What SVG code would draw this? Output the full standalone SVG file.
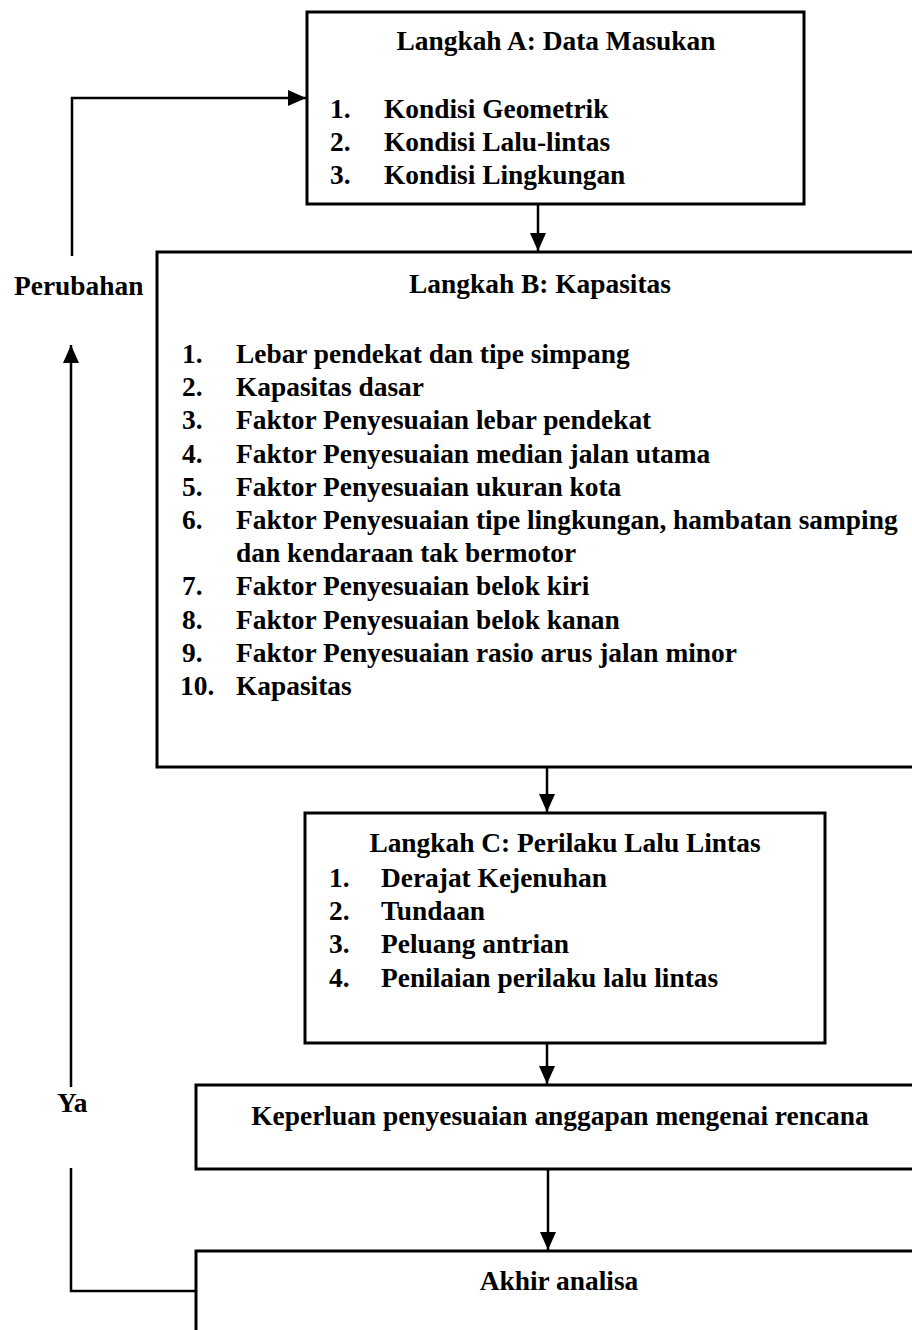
<svg xmlns="http://www.w3.org/2000/svg" width="912" height="1330" viewBox="0 0 912 1330">
<style>
.box{fill:none;stroke:#000;stroke-width:3}
.con{fill:none;stroke:#000;stroke-width:2.5}
text{font-family:"Liberation Serif","Times New Roman",serif;font-weight:bold;font-size:27.4px;fill:#000}
.c{text-anchor:middle}
</style>
<defs>
<marker id="ah" markerUnits="userSpaceOnUse" markerWidth="20" markerHeight="18" refX="18" refY="8" orient="auto">
<path d="M0,0 L18,8 L0,16 Z" fill="#000"/>
</marker>
</defs>
<rect width="912" height="1330" fill="#fff"/>
<g id="connectors">
<line class="con" x1="538" y1="204" x2="538" y2="251" marker-end="url(#ah)"/>
<line class="con" x1="547" y1="767" x2="547" y2="812" marker-end="url(#ah)"/>
<line class="con" x1="547" y1="1043" x2="547" y2="1084" marker-end="url(#ah)"/>
<line class="con" x1="548" y1="1169" x2="548" y2="1250" marker-end="url(#ah)"/>
<polyline class="con" points="196,1291 71,1291 71,1168"/>
<line class="con" x1="71" y1="1087" x2="71" y2="345" marker-end="url(#ah)"/>
<polyline class="con" points="72,256 72,98 306,98" marker-end="url(#ah)"/>
<text x="14" y="295">Perubahan</text>
<text x="57" y="1112">Ya</text>
</g>
<g id="stepA">
<rect class="box" x="307" y="12" width="497" height="192"/>
<text class="c" x="556" y="50">Langkah A: Data Masukan</text>
<text x="330" y="118">1.</text><text x="384" y="118">Kondisi Geometrik</text>
<text x="330" y="151">2.</text><text x="384" y="151">Kondisi Lalu-lintas</text>
<text x="330" y="184">3.</text><text x="384" y="184">Kondisi Lingkungan</text>
</g>
<g id="stepB">
<rect class="box" x="157" y="252" width="770" height="515"/>
<text class="c" x="540" y="293">Langkah B: Kapasitas</text>
<text x="182" y="363">1.</text><text x="236" y="363">Lebar pendekat dan tipe simpang</text>
<text x="182" y="396">2.</text><text x="236" y="396">Kapasitas dasar</text>
<text x="182" y="429">3.</text><text x="236" y="429">Faktor Penyesuaian lebar pendekat</text>
<text x="182" y="463">4.</text><text x="236" y="463">Faktor Penyesuaian median jalan utama</text>
<text x="182" y="496">5.</text><text x="236" y="496">Faktor Penyesuaian ukuran kota</text>
<text x="182" y="529">6.</text><text x="236" y="529">Faktor Penyesuaian tipe lingkungan, hambatan samping</text>
<text x="236" y="562">dan kendaraan tak bermotor</text>
<text x="182" y="595">7.</text><text x="236" y="595">Faktor Penyesuaian belok kiri</text>
<text x="182" y="629">8.</text><text x="236" y="629">Faktor Penyesuaian belok kanan</text>
<text x="182" y="662">9.</text><text x="236" y="662">Faktor Penyesuaian rasio arus jalan minor</text>
<text x="180" y="695">10.</text><text x="236" y="695">Kapasitas</text>
</g>
<g id="stepC">
<rect class="box" x="305" y="813" width="520" height="230"/>
<text class="c" x="565" y="852">Langkah C: Perilaku Lalu Lintas</text>
<text x="329" y="887">1.</text><text x="381" y="887">Derajat Kejenuhan</text>
<text x="329" y="920">2.</text><text x="381" y="920">Tundaan</text>
<text x="329" y="953">3.</text><text x="381" y="953">Peluang antrian</text>
<text x="329" y="987">4.</text><text x="381" y="987">Penilaian perilaku lalu lintas</text>
</g>
<g id="keperluan">
<rect class="box" x="196" y="1085" width="730" height="84"/>
<text class="c" x="560" y="1125">Keperluan penyesuaian anggapan mengenai rencana</text>
</g>
<g id="akhir">
<rect class="box" x="196" y="1251" width="730" height="100"/>
<text class="c" x="559" y="1290">Akhir analisa</text>
</g>
</svg>
